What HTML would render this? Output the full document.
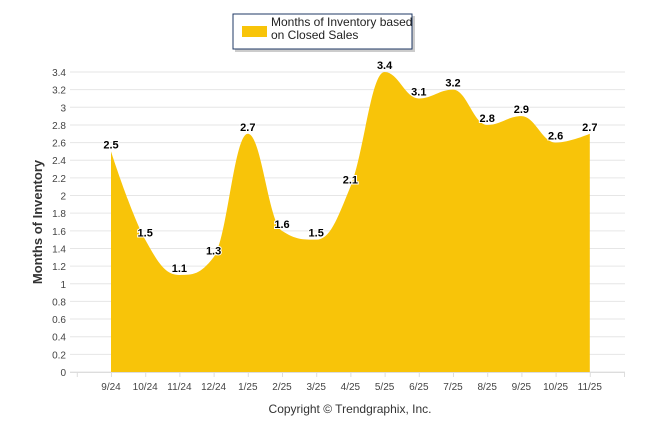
<!DOCTYPE html>
<html><head><meta charset="utf-8"><style>
body{margin:0;background:#fff;width:646px;height:434px;overflow:hidden;font-family:"Liberation Sans",sans-serif}
</style></head><body>
<svg id="chart" width="646" height="434" xmlns="http://www.w3.org/2000/svg" font-family="Liberation Sans, sans-serif">
<g id="grid"></g>
<g id="yticks"></g>
<path id="area" fill="#f8c409"/>
<g id="xaxis"></g>
<g id="labels"></g>
<text transform="translate(42,222) rotate(-90)" text-anchor="middle" font-size="13" font-weight="bold" fill="#333">Months of Inventory</text>
<text x="350" y="413" text-anchor="middle" font-size="12" fill="#333">Copyright © Trendgraphix, Inc.</text>
<g>
<rect x="235" y="16" width="180" height="36" fill="#999" opacity="0.5"/>
<rect x="233" y="14" width="179" height="35" fill="#fff" stroke="#1f3864" stroke-width="1"/>
<rect x="242" y="26" width="25" height="11" fill="#f8c409"/>
<text x="271" y="26" font-size="12" fill="#222">Months of Inventory based</text>
<text x="271" y="39" font-size="12" fill="#222">on Closed Sales</text>
</g>
</svg>
<script>
const categories=["9/24","10/24","11/24","12/24","1/25","2/25","3/25","4/25","5/25","6/25","7/25","8/25","9/25","10/25","11/25"];
const values=[2.5,1.5,1.1,1.3,2.7,1.6,1.5,2.1,3.4,3.1,3.2,2.8,2.9,2.6,2.7];
const yTicks=[0,0.2,0.4,0.6,0.8,1,1.2,1.4,1.6,1.8,2,2.2,2.4,2.6,2.8,3,3.2,3.4];
const NS="http://www.w3.org/2000/svg";
const x0=111,step=34.2,yBase=372,yPer=300/3.4;
const X=i=>x0+i*step;
const Y=v=>yBase-v*yPer;
function mk(tag,attrs,parent,txt){const e=document.createElementNS(NS,tag);for(const k in attrs)e.setAttribute(k,attrs[k]);if(txt!=null)e.textContent=txt;parent.appendChild(e);return e;}
const grid=document.getElementById('grid'),yt=document.getElementById('yticks');
yTicks.forEach(v=>{
 const l=mk('line',{x1:70,x2:625,y1:Y(v),y2:Y(v),stroke:'#e6e6e6','stroke-width':1},grid);
 
 
 const t=mk('text',{x:66,y:Y(v)+4,'text-anchor':'end','font-size':10,fill:'#444'},yt,String(v));
 
 
});
// smooth path (Highcharts-like spline)
const pts=values.map((v,i)=>[X(i),Y(v)]);
let d=`M${pts[0][0]},${yBase} L${pts[0][0]},${pts[0][1]}`;
const sm=1.5;
function ctrl(i){
 const p=pts[i],a=pts[i-1],b=pts[i+1];
 if(!a||!b)return [p,p];
 let lx=(sm*p[0]+a[0])/(sm+1),ly=(sm*p[1]+a[1])/(sm+1);
 let rx=(sm*p[0]+b[0])/(sm+1),ry=(sm*p[1]+b[1])/(sm+1);
 let corr=0;if(rx!==lx)corr=((ry-ly)*(rx-p[0]))/(rx-lx)+p[1]-ry;
 ly+=corr;ry+=corr;
 if(ly>a[1]&&ly>p[1]){ly=Math.max(a[1],p[1]);ry=2*p[1]-ly;}else if(ly<a[1]&&ly<p[1]){ly=Math.min(a[1],p[1]);ry=2*p[1]-ly;}
 if(ry>b[1]&&ry>p[1]){ry=Math.max(b[1],p[1]);ly=2*p[1]-ry;}else if(ry<b[1]&&ry<p[1]){ry=Math.min(b[1],p[1]);ly=2*p[1]-ry;}
 return [[lx,ly],[rx,ry]];
}
for(let i=1;i<pts.length;i++){
 const c1=ctrl(i-1)[1],c2=ctrl(i)[0];
 d+=` C${c1[0]},${c1[1]} ${c2[0]},${c2[1]} ${pts[i][0]},${pts[i][1]}`;
}
d+=` L${pts[pts.length-1][0]},${yBase} Z`;
document.getElementById('area').setAttribute('d',d);
const xa=document.getElementById('xaxis');
mk('line',{x1:70,x2:625,y1:yBase+0.5,y2:yBase+0.5,stroke:'#ddd'},xa);
for(let k=-1;k<=categories.length;k++){mk('line',{x1:X(k)+0.5,x2:X(k)+0.5,y1:yBase,y2:yBase+5,stroke:'#ddd'},xa);}
categories.forEach((c,i)=>{
 const t=mk('text',{x:X(i),y:390,'text-anchor':'middle','font-size':10,fill:'#444'},xa,c);
 
 
});
const lb=document.getElementById('labels');
values.forEach((v,i)=>{
 const t=mk('text',{x:X(i),y:Y(v)-3,'text-anchor':'middle','font-size':11,'font-weight':'bold',fill:'#000',stroke:'#fff','stroke-width':2,'paint-order':'stroke'},lb,String(v));
 
 
});
</script>
</body></html>
